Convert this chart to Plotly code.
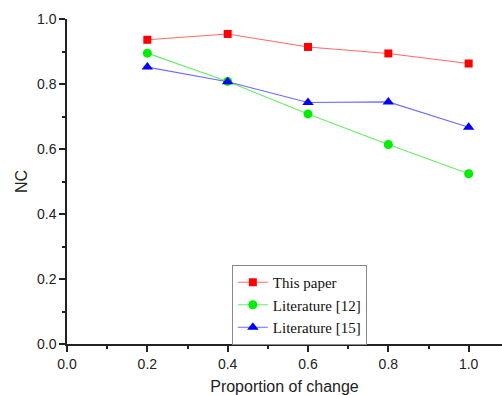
import plotly.graph_objects as go

x_vals = [0.2, 0.4, 0.6, 0.8, 1.0]
this_paper = [0.936, 0.954, 0.914, 0.894, 0.863]
lit12 = [0.895, 0.808, 0.708, 0.614, 0.524]
lit15 = [0.852, 0.807, 0.743, 0.745, 0.667]
series_names = ["This paper", "Literature [12]", "Literature [15]"]
x_ticks = [0.0, 0.2, 0.4, 0.6, 0.8, 1.0]
y_ticks = [0.0, 0.2, 0.4, 0.6, 0.8, 1.0]

fig = go.Figure()
fig.add_trace(go.Scatter(x=x_vals, y=this_paper, name=series_names[0], mode="lines+markers",
                         line=dict(color="#ff6a6a", width=1.1),
                         marker=dict(symbol="square", size=8, color="#ff0000")))
fig.add_trace(go.Scatter(x=x_vals, y=lit12, name=series_names[1], mode="lines+markers",
                         line=dict(color="#66ee66", width=1.1),
                         marker=dict(symbol="circle", size=9, color="#00ee00")))
fig.add_trace(go.Scatter(x=x_vals, y=lit15, name=series_names[2], mode="lines+markers",
                         line=dict(color="#6a6aff", width=1.1),
                         marker=dict(symbol="triangle-up", size=10, color="#0000ff")))

axis_common = dict(
    showline=True, linecolor="#222222", linewidth=1.5,
    ticks="outside", ticklen=6, tickwidth=1.5, tickcolor="#222222",
    showgrid=False, zeroline=False, automargin=False,
    tickfont=dict(family="Liberation Sans, Arial", size=14, color="#222222"),
    tickformat=".1f",
    minor=dict(ticks="outside", ticklen=3, tickwidth=1.5, tickcolor="#222222", dtick=0.1, showgrid=False),
)

fig.update_xaxes(range=[0, 1.083], tickvals=x_ticks,
                 title=dict(text="Proportion of change",
                            font=dict(family="Liberation Sans, Arial", size=16, color="#222222"),
                            standoff=11),
                 **axis_common)
fig.update_yaxes(range=[0, 1.0], tickvals=y_ticks,
                 title=dict(text="NC",
                            font=dict(family="Liberation Sans, Arial", size=16, color="#222222"),
                            standoff=5),
                 **axis_common)

fig.update_layout(
    width=502, height=395,
    margin=dict(l=67, r=0, t=19, b=51),
    plot_bgcolor="white", paper_bgcolor="white",
    legend=dict(x=0.379, y=0.243, xanchor="left", yanchor="top",
                bordercolor="#888888", borderwidth=1, bgcolor="white",
                font=dict(family="Liberation Serif, Times New Roman", size=15, color="#111111"),
                tracegroupgap=0, itemwidth=30),
    showlegend=True,
)

fig.write_html("out.html", config={"displayModeBar": False},
               post_script="document.body.style.margin='0';document.body.style.padding='0';")
